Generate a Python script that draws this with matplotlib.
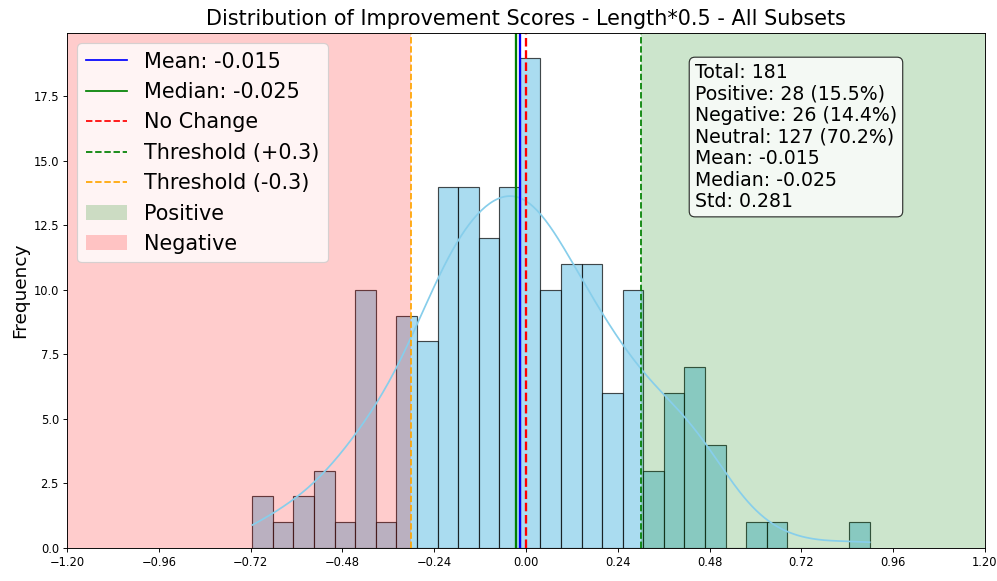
import numpy as np
import matplotlib
matplotlib.use("Agg")
import matplotlib.pyplot as plt
from matplotlib.patches import Patch
from matplotlib.lines import Line2D

# ---- data ----
bin_start = -0.7155
bin_end = 0.8985
counts = [2, 1, 2, 3, 1, 10, 1, 9, 8, 14, 14, 12, 14, 19, 10,
          11, 11, 6, 10, 3, 6, 7, 4, 0, 1, 1, 0, 0, 0, 1]
mean_val = -0.015
median_val = -0.025
std_val = 0.281
threshold = 0.3
total = 181
n_pos, n_neg, n_neu = 28, 26, 127
xticks = [-1.2, -0.96, -0.72, -0.48, -0.24, 0.0, 0.24, 0.48, 0.72, 0.96, 1.2]

edges = np.linspace(bin_start, bin_end, len(counts) + 1)
width = edges[1] - edges[0]
centers = (edges[:-1] + edges[1:]) / 2
counts_arr = np.array(counts)

# sample reconstructed from the histogram, for the KDE curve
sample = np.repeat(centers, counts_arr)
n = sample.size
bw = sample.std(ddof=1) * n ** (-1 / 5)
xs = np.linspace(bin_start, bin_end, 300)
dens = np.exp(-0.5 * ((xs[:, None] - sample[None, :]) / bw) ** 2).sum(axis=1) / (n * bw * np.sqrt(2 * np.pi))
kde_counts = dens * n * width

DPI = 83.08
fig = plt.figure(figsize=(997 / DPI, 581 / DPI), dpi=DPI)
ax = fig.add_axes([67 / 997, 1 - 548 / 581, (985 - 67) / 997, (548 - 33) / 581])

ax.bar(edges[:-1], counts_arr, width=width, align='edge', color='skyblue',
       edgecolor='black', alpha=0.7, linewidth=1)
ax.plot(xs, kde_counts, color='skyblue', linewidth=1.5)

ax.axvspan(threshold, 1.2, color='green', alpha=0.2, linewidth=0)
ax.axvspan(-1.2, -threshold, color='red', alpha=0.2, linewidth=0)

ax.axvline(mean_val, color='blue', linewidth=2)
ax.axvline(median_val, color='green', linewidth=2)
ax.axvline(0, color='red', linestyle='--', linewidth=2)
ax.axvline(threshold, color='green', linestyle='--', linewidth=1.5)
ax.axvline(-threshold, color='orange', linestyle='--', linewidth=1.5)

ax.set_xlim(-1.2, 1.2)
ax.set_xticks(xticks)
ax.set_ylim(0, max(counts) * 1.05)
ax.tick_params(labelsize=10)
ax.set_ylabel('Frequency', fontsize=16)
ax.set_title('Distribution of Improvement Scores - Length*0.5 - All Subsets', fontsize=18, pad=7)

handles = [
    Line2D([0], [0], color='blue', linewidth=1.5, label=f'Mean: {mean_val:.3f}'),
    Line2D([0], [0], color='green', linewidth=1.5, label=f'Median: {median_val:.3f}'),
    Line2D([0], [0], color='red', linestyle='--', linewidth=1.5, label='No Change'),
    Line2D([0], [0], color='green', linestyle='--', linewidth=1.5, label=f'Threshold (+{threshold})'),
    Line2D([0], [0], color='orange', linestyle='--', linewidth=1.5, label=f'Threshold (-{threshold})'),
    Patch(facecolor='green', alpha=0.2, label='Positive'),
    Patch(facecolor='red', alpha=0.2, label='Negative'),
]
ax.legend(handles=handles, loc='upper left', fontsize=18, labelspacing=0.5,
          handlelength=2.0, borderaxespad=0.5)

stats = (f'Total: {total}\n'
         f'Positive: {n_pos} ({n_pos / total * 100:.1f}%)\n'
         f'Negative: {n_neg} ({n_neg / total * 100:.1f}%)\n'
         f'Neutral: {n_neu} ({n_neu / total * 100:.1f}%)\n'
         f'Mean: {mean_val:.3f}\n'
         f'Median: {median_val:.3f}\n'
         f'Std: {std_val:.3f}')
ax.text(0.684, 0.942, stats, transform=ax.transAxes, fontsize=16.4, va='top', ha='left',
        linespacing=1.17,
        bbox=dict(boxstyle='round', facecolor='white', alpha=0.8))

fig.savefig('out.png', dpi=DPI)
